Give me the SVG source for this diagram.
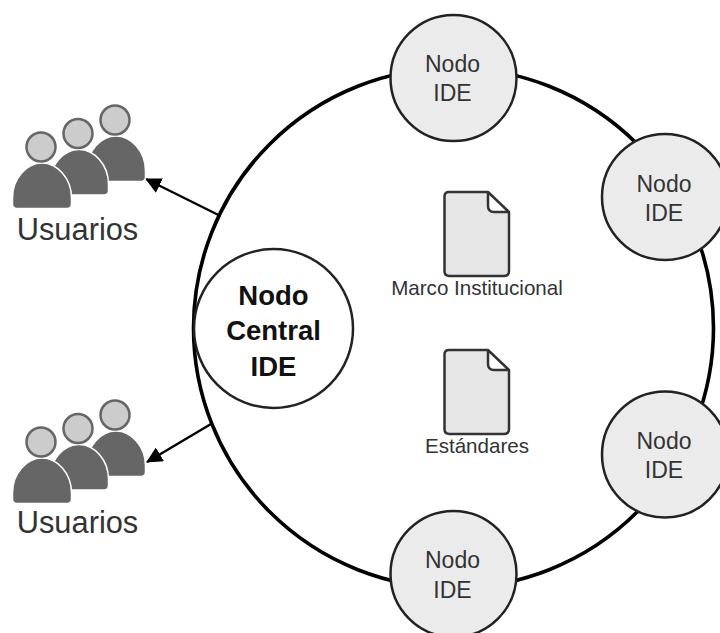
<svg xmlns="http://www.w3.org/2000/svg" width="720" height="633" viewBox="0 0 720 633">
<style>
text{font-family:"Liberation Sans",Arial,sans-serif;fill:#333;text-anchor:middle}
.n{fill:#ebebeb;stroke:#222;stroke-width:2.5}
.nt{font-size:23px}
.u{font-size:30.8px}
.d{font-size:20.6px}
.b{font-size:27.5px;font-weight:bold;fill:#111}
.doc{fill:#e6e6e6;stroke:#333;stroke-width:2.5;stroke-linejoin:round}
.head{fill:#ccc;stroke:#666;stroke-width:2.5}
.body{fill:#666;stroke:#fff;stroke-width:1.5}
.c{fill:none;stroke:#000;stroke-width:2.4}
</style>
<defs>
<marker id="ah" markerWidth="16" markerHeight="16" refX="15" refY="8" orient="auto" markerUnits="userSpaceOnUse"><path d="M0 0L16 8L0 16Z" fill="#000"/></marker>
<g id="person"><path class="body" d="M12.500 198C12.500 178 27 163 42 163C57 163 71.500 178 71.500 198V204Q71.500 208.500 67 208.500H17Q12.500 208.500 12.500 204Z"/><circle class="head" cx="41" cy="147" r="14.500"/></g>
<g id="users"><use href="#person" x="74" y="-27"/><use href="#person" x="37" y="-13.500"/><use href="#person"/></g>
<path id="docshape" d="M449 192H488L509 212V271Q509 276 504 276H449.500Q444.500 276 444.500 271V196.500Q444.500 192 449 192ZM488 192V206Q488 212 494 212H509"/>
</defs>
<g id="connectors">
<circle cx="453.500" cy="328" r="260" fill="none" stroke="#000" stroke-width="3.600"/>
<line class="c" x1="218.500" y1="215" x2="146" y2="179" marker-end="url(#ah)"/>
<line class="c" x1="211" y1="424" x2="147" y2="462" marker-end="url(#ah)"/>
</g>
<g id="users-1"><use href="#users"/><text class="u" x="77.500" y="240">Usuarios</text></g>
<g id="users-2"><use href="#users" y="295"/><text class="u" x="77.500" y="533">Usuarios</text></g>
<g id="node-central"><circle cx="273.500" cy="328.500" r="79.500" fill="#fff" stroke="#222" stroke-width="2.500"/><text class="b" x="273.500" y="304.500">Nodo</text><text class="b" x="273.500" y="340">Central</text><text class="b" x="273.500" y="376">IDE</text></g>
<g id="node-1"><circle class="n" cx="453.500" cy="78" r="63"/><text class="nt" x="452.500" y="72">Nodo</text><text class="nt" x="452.500" y="101">IDE</text></g>
<g id="node-2"><circle class="n" cx="665" cy="197" r="63"/><text class="nt" x="664" y="192">Nodo</text><text class="nt" x="664" y="221">IDE</text></g>
<g id="node-3"><circle class="n" cx="665" cy="454.500" r="63"/><text class="nt" x="664" y="449">Nodo</text><text class="nt" x="664" y="478">IDE</text></g>
<g id="node-4"><circle class="n" cx="453.500" cy="574" r="63"/><text class="nt" x="452.500" y="568">Nodo</text><text class="nt" x="452.500" y="598">IDE</text></g>
<g id="doc-1"><use href="#docshape" class="doc"/><text class="d" x="477" y="295">Marco Institucional</text></g>
<g id="doc-2"><use href="#docshape" class="doc" y="158"/><text class="d" x="477" y="453">Estándares</text></g>
</svg>
